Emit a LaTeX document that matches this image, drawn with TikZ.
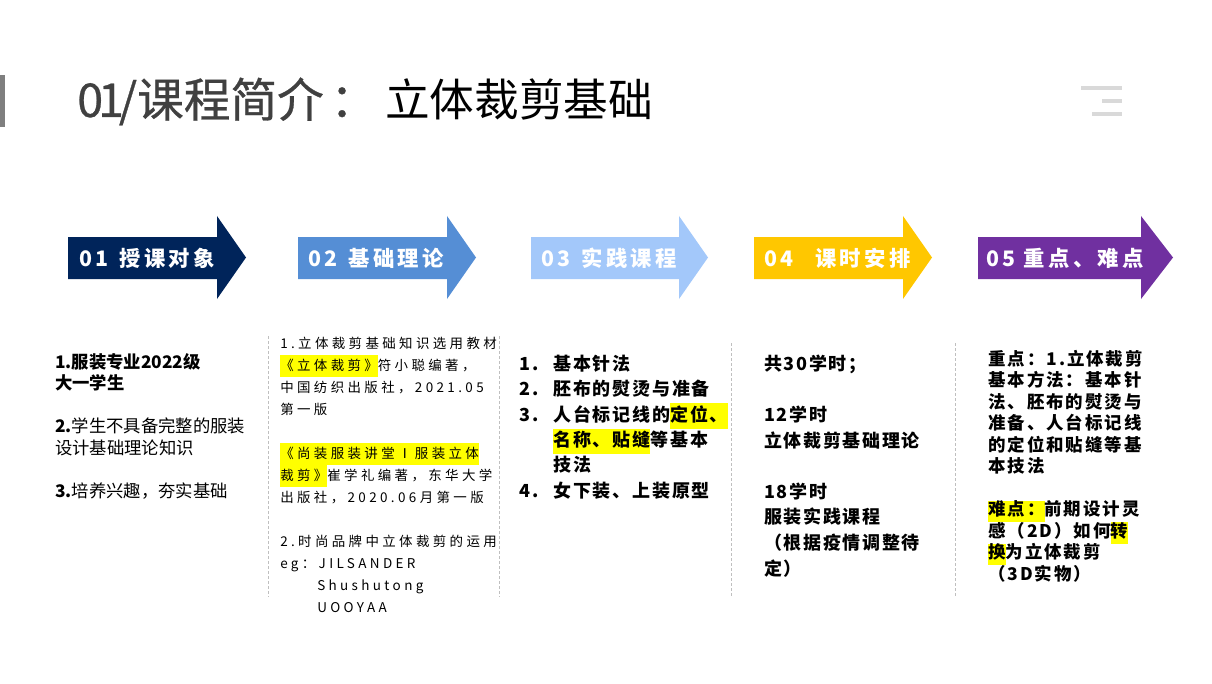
\documentclass[tikz,border=0pt]{standalone}
\usepackage{fontspec}
\setmainfont{Noto Sans CJK SC}
\definecolor{one}{HTML}{00245A}
\definecolor{two}{HTML}{558ED5}
\definecolor{three}{HTML}{A3C8FA}
\definecolor{four}{HTML}{FFC700}
\definecolor{five}{HTML}{7030A0}
\definecolor{titlegrey}{HTML}{404040}
\definecolor{bargrey}{HTML}{7F7F7F}
\definecolor{menugrey}{HTML}{D9D9D9}
\definecolor{sepgrey}{HTML}{BFBFBF}
\definecolor{mark}{HTML}{FFFF00}
\newcommand{\hlt}[1]{{\setlength{\fboxsep}{0pt}\colorbox{mark}{\strut #1}}}
\newcommand{\itemno}[1]{\makebox[25.5pt][l]{#1}}
\lineskiplimit=-\maxdimen
\tikzset{
  arrowlabel/.style={anchor=base west, inner sep=0, text=white,
    font=\fontsize{16}{19}\selectfont\bfseries\addfontfeature{LetterSpace=16}},
  column/.style={anchor=base west, align=left, inner sep=0},
  sepline/.style={sepgrey, line width=0.75pt, dash pattern=on 2.25pt off 1.5pt},
  menuline/.style={menugrey, line width=3pt}
}
\begin{document}
\begin{tikzpicture}[x=0.75pt,y=-0.75pt]
\fill[white] (0,0) rectangle (1212,684);
\useasboundingbox (0,0) rectangle (1212,684);
% title
\fill[bargrey] (0,75) rectangle (5,127);
\node[anchor=base west, inner sep=0, font=\fontsize{35}{42}\selectfont] (title) at (77,117)
  {{\color{titlegrey}\addfontfeature{FakeBold=0.6}{\addfontfeature{LetterSpace=-11}01/}课程简介\hspace{5pt}：}\hspace{6pt}{\fontsize{33.5}{40}\selectfont 立体裁剪基础}};
\draw[menuline] (1081,88) -- (1122,88);
\draw[menuline] (1102,101) -- (1122,101);
\draw[menuline] (1092,114) -- (1122,114);
% arrows
\fill[one] (68,237) -- (217,237) -- (217,216) -- (246,257.5) -- (217,299) -- (217,279) -- (68,279) -- cycle;
\fill[two] (298,237) -- (447,237) -- (447,216) -- (476,257.5) -- (447,299) -- (447,279) -- (298,279) -- cycle;
\fill[three] (531,237) -- (679,237) -- (679,216) -- (708,257.5) -- (679,299) -- (679,279) -- (531,279) -- cycle;
\fill[four] (754,237) -- (903,237) -- (903,216) -- (932,257.5) -- (903,299) -- (903,279) -- (754,279) -- cycle;
\fill[five] (978,237) -- (1141,237) -- (1141,216) -- (1173,257.5) -- (1141,299) -- (1141,279) -- (978,279) -- cycle;
\node[arrowlabel] (who) at (79,266) {01\hspace{8pt}授课对象};
\node[arrowlabel] (theory) at (308,266) {02\hspace{8pt}基础理论};
\node[arrowlabel] (practice) at (541,266) {03\hspace{8pt}实践课程};
\node[arrowlabel] (hours) at (764,266) {04\hspace{16pt}课时安排};
\node[arrowlabel] (focus) at (986,266) {05\hspace{6pt}重点、难点};
% separators
\draw[sepline] (268,336) -- (268,597);
\draw[sepline] (499,336) -- (499,597);
\draw[sepline] (731,343) -- (731,597);
\draw[sepline] (955,343) -- (955,597);
% columns (anchored on the last line)
\node[column, font=\fontsize{13}{16.1}\selectfont] (whotext) at (55,497)
  {\textbf{1.服装专业2022级}\\\textbf{大一学生}\\[16.1pt]
   \textbf{2.}学生不具备完整的服装\\设计基础理论知识\\[16.1pt]
   \textbf{3.}培养兴趣，夯实基础};
\node[column, font=\fontsize{10.1}{16.5}\selectfont\addfontfeature{LetterSpace=25}] (theorytext) at (280,612)
  {1.立体裁剪基础知识选用教材\\\hlt{《立体裁剪》}符小聪编著，\\中国纺织出版社，2021.05\\第一版\\[16.5pt]
   \hlt{《尚装服装讲堂Ⅰ服装立体}\\\hlt{裁剪》}崔学礼编著，东华大学\\出版社，2020.06月第一版\\[16.5pt]
   2.时尚品牌中立体裁剪的运用\\eg：JILSANDER\\\hspace*{27.75pt}Shushutong\\\hspace*{27.75pt}UOOYAA};
\node[column, font=\fontsize{13.5}{19}\selectfont\bfseries\addfontfeature{LetterSpace=10}] (practicetext) at (519,497)
  {\itemno{1.}基本针法\\\itemno{2.}胚布的熨烫与准备\\\itemno{3.}人台标记线的\hlt{定位、}\\
   \itemno{}\hlt{名称、贴缝}等基本\\\itemno{}技法\\\itemno{4.}女下装、上装原型};
\node[column, font=\fontsize{13.5}{19.2}\selectfont\bfseries\addfontfeature{LetterSpace=9}] (hourstext) at (764,575)
  {共30学时；\\[19.2pt]12学时\\立体裁剪基础理论\\[19.2pt]18学时\\服装实践课程\\（根据疫情调整待\\定）};
\node[column, font=\fontsize{13.1}{16.1}\selectfont\bfseries\addfontfeature{LetterSpace=11}] (focustext) at (988,580)
  {重点：1.立体裁剪\\基本方法：基本针\\法、胚布的熨烫与\\准备、人台标记线\\的定位和贴缝等基\\本技法\\[16.1pt]
   \hlt{难点：}前期设计灵\\感（2D）如何\hlt{转}\\\hlt{换}为立体裁剪\\（3D实物）};
\end{tikzpicture}
\end{document}
